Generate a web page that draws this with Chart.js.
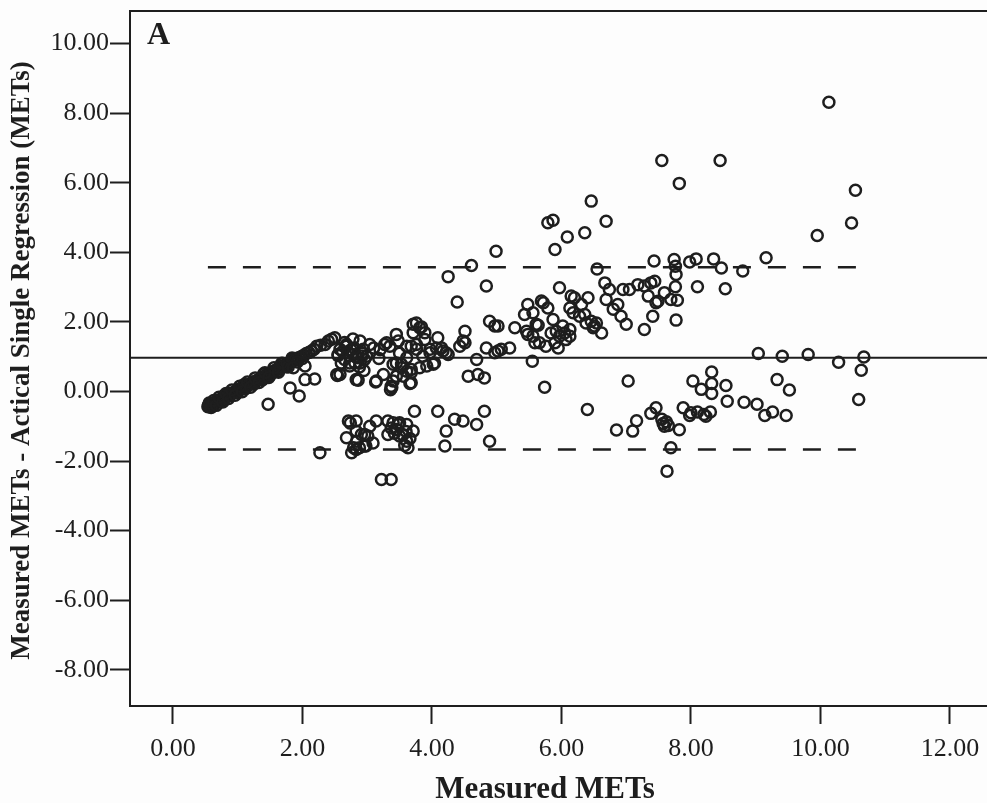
<!DOCTYPE html>
<html>
<head>
<meta charset="utf-8">
<title>Bland-Altman plot A</title>
<script src="https://cdn.jsdelivr.net/npm/chart.js@4.4.1/dist/chart.umd.min.js"></script>
<style>
  html, body { margin: 0; padding: 0; background: #fdfdfd; overflow: hidden; }
  #wrap { position: relative; width: 1007px; height: 803px; }
</style>
</head>
<body>
<div id="wrap"><canvas id="myChart"></canvas></div>
<script>
// axis ticks
var xTickValues = [0, 2, 4, 6, 8, 10, 12];
var xTickLabels = ['0.00', '2.00', '4.00', '6.00', '8.00', '10.00', '12.00'];
var yTickValues = [-8, -6, -4, -2, 0, 2, 4, 6, 8, 10];
var yTickLabels = ['-8.00', '-6.00', '-4.00', '-2.00', '0.00', '2.00', '4.00', '6.00', '8.00', '10.00'];

// mean difference and limits of agreement
var meanDiff = 0.97;
var upperLoA = 3.57;
var lowerLoA = -1.67;

// measured METs (x) and measured - Actical single regression (y)
var measuredMets = [
  // sedentary band
  0.54, 0.55, 0.57, 0.58, 0.60, 0.62, 0.62, 0.64, 0.66, 0.68, 0.70, 0.72, 0.74, 0.75, 0.76, 0.78, 0.80, 0.80, 0.83, 0.85,
  0.87, 0.88, 0.90, 0.92, 0.95, 0.97, 1.00, 1.00, 1.02, 1.05, 1.08, 1.10, 1.10, 1.12, 1.13, 1.16, 1.19, 1.22, 1.25, 1.25,
  1.28, 1.31, 1.34, 1.37, 1.38, 1.40, 1.40, 1.43, 1.46, 1.49, 1.50, 1.52, 1.55, 1.58, 1.61, 1.62, 1.64, 1.67, 1.70, 1.70,
  1.73, 1.75, 1.76, 1.79, 1.82, 1.86, 1.86, 1.90, 1.94, 1.98, 2.00, 2.02, 2.06, 2.10, 2.14, 2.18, 2.22, 2.28, 2.35, 2.40,
  2.45, 2.50,
  0.56, 0.59, 0.63, 0.67, 0.71, 0.77, 0.82, 0.86, 0.91, 0.96, 1.03, 1.07, 1.15, 1.20, 1.27, 1.33, 1.42, 1.48, 1.56, 1.63,
  1.68, 1.78, 1.84, 1.92,
  // around 1.5 - 2.6
  1.47, 1.81, 1.95, 1.86, 2.04, 2.04, 2.19, 2.27, 2.54, 2.55, 2.60,
  // 2.5 - 3.1 middle
  2.68, 2.78, 2.89, 3.04, 2.94, 2.83, 2.73, 2.65, 2.89, 2.99, 2.55, 2.53, 2.86, 2.83, 2.58, 2.68, 2.78, 2.86, 2.96, 2.73,
  2.81, 2.58, 2.65, 2.75, 2.92, 2.70, 2.80, 2.92, 2.62, 2.88, 2.95,
  // 3.1 - 3.7 middle
  3.13, 3.25, 3.37, 3.40, 3.45, 3.56, 3.68, 3.68, 3.53, 3.45, 3.61, 3.27, 3.35, 3.45, 3.30, 3.48, 3.14, 3.38, 3.66, 3.40,
  3.53, 3.61, 3.68, 3.20, 3.10, 3.18, 3.50, 3.36,
  // 3.7 - 4.3 middle
  3.71, 3.76, 3.81, 3.89, 3.71, 3.76, 3.89, 3.86, 3.97, 4.04, 3.92, 4.09, 4.15, 4.22, 3.61, 3.68, 3.76, 3.97, 4.07, 4.17,
  4.25, 3.81, 4.02, 3.84,
  // 4.3 - 5.3 middle
  4.51, 4.48, 4.43, 4.69, 4.56, 4.71, 4.81, 4.84, 4.97, 4.89, 4.97, 5.02, 5.02, 5.07, 5.20, 5.28, 4.51,
  // upper points 4 - 5
  4.61, 4.25, 4.39, 4.99, 4.84,
  // 5.4 - 6.7 cluster
  5.46, 5.56, 5.72, 5.79, 5.61, 5.56, 5.66, 5.76, 5.87, 5.92, 5.97, 5.90, 5.95, 6.07, 6.13, 5.97, 6.15, 6.20, 6.31, 6.13,
  6.18, 6.28, 6.36, 6.38, 6.46, 6.54, 6.62, 6.41, 5.43, 5.48, 5.69, 5.48, 5.59, 5.64, 5.84, 6.05, 6.13, 6.02, 6.49, 6.51,
  5.55, 5.74,
  // 6.5 - 7.6 upper cluster
  6.55, 6.67, 6.74, 6.69, 6.80, 6.87, 6.92, 7.00, 6.95, 7.05, 7.18, 7.28, 7.34, 7.38, 7.46, 7.41, 7.28, 7.59, 7.43, 7.44,
  7.49,
  // 7.7 - 9.2 upper
  7.74, 7.76, 7.77, 7.76, 7.69, 7.79, 7.77, 7.98, 8.08, 8.35, 8.47, 8.80, 9.16, 8.10, 8.53,
  // high outliers
  5.79, 5.87, 6.69, 6.36, 6.09, 5.90, 6.46, 7.55, 8.45, 7.82, 10.13, 10.54, 10.48, 9.95,
  // near the mean, right side
  7.03, 9.04, 9.41, 9.81, 10.28, 10.67, 10.63, 10.59,
  // lower right cluster
  6.40, 6.85, 7.10, 7.16, 7.38, 7.46, 7.55, 7.59, 7.62, 7.65, 7.57, 7.82, 7.88, 7.98, 8.10, 8.20, 8.30, 8.23, 8.00, 8.32,
  8.03, 8.16, 8.32, 8.32, 8.54, 8.56, 8.82, 9.02, 9.14, 9.26, 9.47, 9.33, 9.52, 7.69, 7.63,
  // lower left cluster
  2.71, 2.83, 2.68, 2.83, 2.76, 2.83, 2.96, 3.01, 3.09, 3.14, 3.04, 3.32, 3.40, 3.45, 3.50, 3.61, 3.71, 3.32, 3.50, 3.61,
  3.63, 3.73, 4.09, 4.35, 4.48, 4.69, 4.22, 4.20, 3.22, 3.37, 4.81, 4.89, 2.74, 2.79, 2.88, 2.98, 2.96, 2.84, 2.91, 3.37,
  3.48, 3.55, 3.60, 3.42, 3.58, 3.66
];

var diffMets = [
  // sedentary band
  -0.44, -0.40, -0.43, -0.38, -0.36, -0.37, -0.42, -0.33, -0.30, -0.31, -0.27, -0.26, -0.22, -0.28, -0.22, -0.18, -0.17, -0.10, -0.15, -0.11,
  -0.12, -0.05, -0.07, -0.05, -0.03, 0.01, 0.02, -0.04, 0.06, 0.08, 0.10, 0.14, 0.20, 0.08, 0.15, 0.19, 0.21, 0.24, 0.27, 0.21,
  0.30, 0.33, 0.36, 0.40, 0.33, 0.42, 0.50, 0.45, 0.49, 0.51, 0.46, 0.55, 0.58, 0.60, 0.64, 0.58, 0.67, 0.69, 0.73, 0.80,
  0.76, 0.71, 0.79, 0.82, 0.85, 0.88, 0.94, 0.93, 0.97, 1.00, 0.95, 1.04, 1.09, 1.12, 1.16, 1.21, 1.30, 1.33, 1.35, 1.45,
  1.50, 1.54,
  -0.33, -0.46, -0.26, -0.40, -0.17, -0.30, -0.06, -0.20, 0.04, -0.11, 0.15, -0.01, 0.27, 0.12, 0.39, 0.26, 0.54, 0.40, 0.68, 0.55,
  0.81, 0.70, 0.96, 0.85,
  // around 1.5 - 2.6
  -0.37, 0.10, -0.13, 0.68, 0.73, 0.34, 0.36, -1.76, 0.46, 1.06, 0.82,
  // 2.5 - 3.1 middle
  1.35, 1.51, 1.45, 1.35, 1.21, 1.01, 0.82, 0.92, 0.82, 1.01, 1.03, 0.49, 0.32, 0.34, 0.49, 1.30, 1.06, 0.97, 0.92, 0.73,
  0.82, 1.21, 1.41, 1.20, 1.10, 1.12, 1.25, 1.02, 1.15, 0.70, 0.60,
  // 3.1 - 3.7 middle
  0.27, 0.49, 0.15, 0.30, 0.44, 0.44, 0.25, 0.63, 0.78, 0.82, 0.97, 1.35, 1.30, 1.64, 1.40, 1.45, 0.30, 0.11, 0.23, 0.78,
  0.68, 0.58, 0.54, 1.20, 1.25, 0.95, 1.10, 0.05,
  // 3.7 - 4.3 middle
  1.93, 1.97, 1.83, 1.69, 1.69, 1.35, 1.49, 1.01, 1.11, 0.82, 0.73, 1.54, 1.25, 1.11, 1.30, 1.30, 1.21, 1.21, 1.25, 1.16,
  1.06, 0.68, 0.78, 1.85,
  // 4.3 - 5.3 middle
  1.73, 1.45, 1.30, 0.92, 0.44, 0.49, 0.39, 1.25, 1.11, 2.02, 1.88, 1.88, 1.16, 1.21, 1.25, 1.83, 1.40,
  // upper points 4 - 5
  3.62, 3.30, 2.57, 4.03, 3.03,
  // 5.4 - 6.7 cluster
  1.73, 2.26, 2.55, 2.40, 1.93, 1.59, 1.40, 1.30, 2.07, 1.73, 1.59, 1.40, 1.25, 1.49, 1.78, 2.98, 2.74, 2.69, 2.50, 2.40,
  2.26, 2.16, 2.21, 1.97, 2.02, 1.97, 1.68, 2.69, 2.21, 2.50, 2.60, 1.64, 1.40, 1.90, 1.68, 1.68, 1.59, 1.88, 1.83, 1.88,
  0.87, 0.12,
  // 6.5 - 7.6 upper cluster
  3.52, 3.12, 2.93, 2.64, 2.36, 2.50, 2.16, 1.93, 2.93, 2.93, 3.07, 3.03, 2.74, 3.12, 2.55, 2.16, 1.78, 2.84, 3.75, 3.17,
  2.59,
  // 7.7 - 9.2 upper
  3.79, 3.60, 3.36, 3.01, 2.64, 2.62, 2.05, 3.72, 3.81, 3.81, 3.55, 3.46, 3.84, 3.01, 2.95,
  // high outliers
  4.85, 4.92, 4.89, 4.56, 4.44, 4.08, 5.47, 6.64, 6.64, 5.98, 8.31, 5.78, 4.84, 4.48,
  // near the mean, right side
  0.30, 1.09, 1.01, 1.06, 0.84, 0.99, 0.61, -0.23,
  // lower right cluster
  -0.52, -1.11, -1.14, -0.84, -0.63, -0.47, -0.80, -1.00, -0.87, -0.98, -0.92, -1.10, -0.47, -0.69, -0.59, -0.66, -0.59, -0.71, -0.61, 0.56,
  0.30, 0.06, 0.23, -0.06, 0.17, -0.28, -0.31, -0.37, -0.69, -0.59, -0.69, 0.34, 0.04, -1.62, -2.29,
  // lower left cluster
  -0.85, -0.85, -1.33, -1.14, -1.76, -1.67, -1.57, -1.28, -1.48, -0.85, -1.00, -0.85, -0.90, -1.09, -0.90, -0.95, -1.14, -1.24, -1.28, -1.43,
  -1.62, -0.57, -0.57, -0.80, -0.85, -0.95, -1.14, -1.57, -2.53, -2.53, -0.57, -1.43, -0.91, -1.62, -1.62, -1.57, -1.24, -1.43, -1.24, -1.05,
  -0.95, -1.25, -1.15, -1.20, -1.55, -1.35
];

var X_MIN = -0.663, X_MAX = 12.757;
var Y_MIN = -9.04, Y_MAX = 10.934;
var ink = '#1e1e1e';
var serif = "'Liberation Serif', 'Times New Roman', serif";

var points = measuredMets.map(function (x, i) { return { x: x, y: diffMets[i] }; });
var loaStart = Math.min.apply(null, measuredMets);
var loaEnd = Math.max.apply(null, measuredMets);

// no automatic label padding: the frame sits where the reference puts it
function noPadding(scale) {
  scale.paddingTop = 0;
  scale.paddingBottom = 0;
  scale.paddingLeft = 0;
  scale.paddingRight = 0;
}

var frameAndLabels = {
  id: 'frameAndLabels',
  afterDraw: function (chart) {
    var ctx = chart.ctx, a = chart.chartArea;
    ctx.save();
    ctx.strokeStyle = ink;
    ctx.lineWidth = 2;
    ctx.beginPath();
    ctx.moveTo(a.left, a.top);
    ctx.lineTo(a.right, a.top);
    ctx.lineTo(a.right, a.bottom);
    ctx.stroke();

    ctx.fillStyle = ink;
    ctx.font = 'bold 32px ' + serif;
    ctx.textAlign = 'left';
    ctx.textBaseline = 'alphabetic';
    ctx.fillText('A', a.left + 17, a.top + 33);

    ctx.font = 'bold 31px ' + serif;
    ctx.textAlign = 'center';
    ctx.textBaseline = 'middle';
    ctx.fillText('Measured METs', 545, 790);

    ctx.font = 'bold 27px ' + serif;
    ctx.translate(22, (a.top + a.bottom) / 2 + 2);
    ctx.rotate(-Math.PI / 2);
    ctx.fillText('Measured METs - Actical Single Regression (METs)', 0, 0);
    ctx.restore();
  }
};

var ctx = document.getElementById('myChart').getContext('2d');
var myChart = new Chart(ctx, {
  type: 'scatter',
  data: {
    datasets: [{
      label: 'Differences',
      data: points,
      pointStyle: 'circle',
      pointRadius: 5.5,
      pointBorderWidth: 2.5,
      pointBackgroundColor: 'rgba(0,0,0,0)',
      pointBorderColor: ink,
      order: 1
    }, {
      label: 'Mean',
      type: 'line',
      data: [{ x: X_MIN, y: meanDiff }, { x: X_MAX, y: meanDiff }],
      borderColor: ink,
      borderWidth: 2,
      pointRadius: 0,
      order: 2
    }, {
      label: 'Upper LoA',
      type: 'line',
      data: [{ x: loaStart, y: upperLoA }, { x: loaEnd, y: upperLoA }],
      borderColor: ink,
      borderWidth: 2.5,
      borderDash: [18, 17],
      pointRadius: 0,
      order: 2
    }, {
      label: 'Lower LoA',
      type: 'line',
      data: [{ x: loaStart, y: lowerLoA }, { x: loaEnd, y: lowerLoA }],
      borderColor: ink,
      borderWidth: 2.5,
      borderDash: [18, 17],
      pointRadius: 0,
      order: 2
    }]
  },
  options: {
    responsive: true,
    maintainAspectRatio: false,
    animation: false,
    layout: { padding: { top: 11, left: 0, right: 0, bottom: 0 } },
    plugins: {
      legend: { display: false },
      tooltip: { enabled: false }
    },
    scales: {
      x: {
        type: 'linear',
        min: X_MIN,
        max: X_MAX,
        afterFit: function (scale) { scale.height = 97; noPadding(scale); },
        afterBuildTicks: function (scale) {
          scale.ticks = xTickValues.map(function (v) { return { value: v }; });
        },
        ticks: {
          color: ink,
          font: { family: serif, size: 26 },
          padding: 10,
          maxRotation: 0,
          callback: function (value, index) { return xTickLabels[index]; }
        },
        grid: { drawOnChartArea: false, drawTicks: true, tickLength: 18, tickWidth: 2, tickColor: ink },
        border: { display: true, color: ink, width: 2 }
      },
      y: {
        type: 'linear',
        min: Y_MIN,
        max: Y_MAX,
        afterFit: function (scale) { scale.width = 130; noPadding(scale); },
        afterBuildTicks: function (scale) {
          scale.ticks = yTickValues.map(function (v) { return { value: v }; });
        },
        ticks: {
          color: ink,
          font: { family: serif, size: 26 },
          padding: 1,
          callback: function (value, index) { return yTickLabels[index]; }
        },
        grid: { drawOnChartArea: false, drawTicks: true, tickLength: 20, tickWidth: 2, tickColor: ink },
        border: { display: true, color: ink, width: 2 }
      }
    }
  },
  plugins: [frameAndLabels]
});
</script>
</body>
</html>
